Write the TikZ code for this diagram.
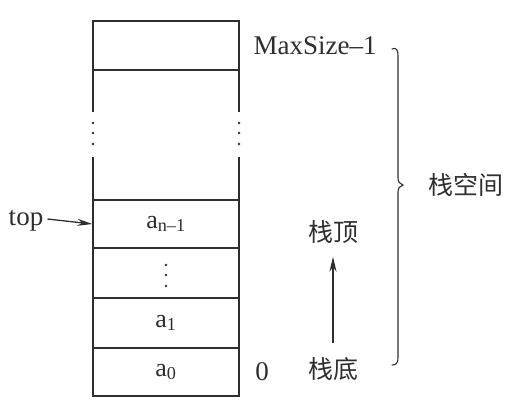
\documentclass[tikz,border=0pt]{standalone}
\usepackage{fontspec}
\setmainfont{Liberation Serif}
\newfontfamily\cjk{Noto Sans CJK SC}
\usetikzlibrary{arrows.meta}
\definecolor{ink}{HTML}{2E2E2E}
\begin{document}
\begin{tikzpicture}[x=1pt,y=-1pt,
  every node/.style={text=ink},
  cell/.style={draw=ink,line width=1.4pt,minimum width=146pt,inner sep=0pt,
    font=\fontsize{26}{30}\selectfont},
  lab/.style={inner sep=0pt,font=\fontsize{27}{30}\selectfont},
  zh/.style={inner sep=0pt,font=\cjk\fontsize{25}{28}\selectfont},
  arr/.style={draw=ink,line width=1.3pt,-{Stealth[length=15pt,width=7pt]}},
  dot/.style={fill=ink}]
\useasboundingbox (0,0) rectangle (521,408);
% cells
\node[cell,minimum height=49pt] (cmax) at (166,45.5) {};
\node[cell,minimum height=48pt] (an) at (166,224) {a\textsubscript{n–1}};
\node[cell,minimum height=50pt] (cv) at (166,273) {};
\node[cell,minimum height=50pt] (a1) at (166,323) {a\textsubscript{1}};
\node[cell,minimum height=48pt] (a0) at (166,372) {a\textsubscript{0}};
% gapped section
\draw[ink,line width=1.4pt] (93,70) -- (93,112) (93,157) -- (93,200)
  (239,70) -- (239,112) (239,157) -- (239,200);
\foreach \yy in {123,133,144}{
  \fill[ink] (93,\yy) circle (1.4pt);
  \fill[ink] (239,\yy) circle (1.4pt);
}
\foreach \yy in {265,275,286}{
  \fill[ink] (166,\yy) circle (1.4pt);
}
% labels
\node[lab] (maxl) at (315,46) {MaxSize–1};
\node[lab] (zero) at (262,372) {0};
\node[lab] (topl) at (26,221) {top};
\node[zh] (stop) at (333,232) {栈顶};
\node[zh] (sbot) at (333,369) {栈底};
\node[zh] (space) at (466,185) {栈空间};
% arrows
\draw[arr] ([xshift=4pt,yshift=2pt]topl.east) -- (an.west);
\draw[arr] ([yshift=14pt]sbot.north) -- ([yshift=-13pt]stop.south);
% brace
\draw[ink,line width=1.1pt,line cap=round] (392,49) .. controls (396,47) and (398,50) .. (398,55)
  -- (398,178) .. controls (398,182) and (400,184) .. (403,185)
  .. controls (400,186) and (398,188) .. (398,192)
  -- (398,358) .. controls (398,363) and (396,365) .. (392,365);
\end{tikzpicture}
\end{document}
